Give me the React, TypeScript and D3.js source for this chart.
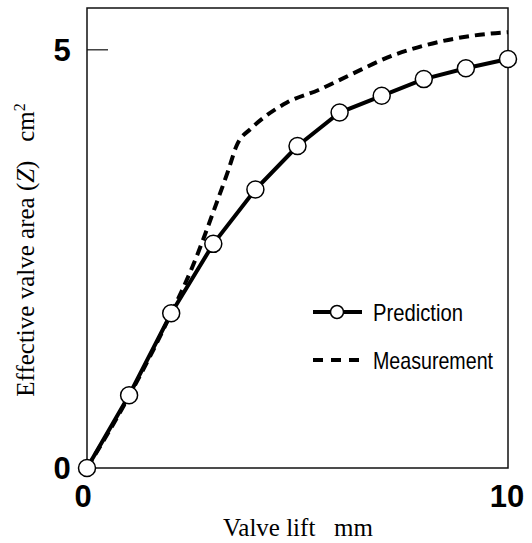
import { useEffect, useRef } from 'react'
import * as d3 from 'd3'

// valve lift (mm) vs effective valve area (cm^2)
const predLift = [0, 1, 2, 3, 4, 5, 6, 7, 8, 9, 10]
const predArea = [0, 0.87, 1.85, 2.68, 3.33, 3.85, 4.25, 4.45, 4.65, 4.78, 4.89]

const measLift = [0, 1, 2, 2.5, 3.1, 3.35, 3.55, 3.9, 4.2, 4.75, 5.5, 6.25, 7.3, 8, 8.8, 9.5, 10]
const measArea = [0, 0.86, 1.85, 2.4, 3.2, 3.55, 3.85, 4.06, 4.19, 4.37, 4.52, 4.7, 4.94, 5.05, 5.14, 5.19, 5.21]

const xTicks = [0, 10]
const yTicks = [0, 5]

const App = () => {
  const svgRef = useRef<SVGSVGElement>(null)

  useEffect(() => {
    if (!svgRef.current) return
    const width = 532
    const height = 543
    const margin = { top: 8, right: 24, bottom: 75, left: 87 }

    const svg = d3.select(svgRef.current)
    svg.selectAll('*').remove()
    svg.attr('width', width).attr('height', height)

    const x = d3.scaleLinear().domain([0, 10]).range([margin.left, width - margin.right])
    const y = d3.scaleLinear().domain([0, 5.5]).range([height - margin.bottom, margin.top])

    // frame
    svg.append('rect')
      .attr('x', margin.left)
      .attr('y', margin.top)
      .attr('width', width - margin.right - margin.left)
      .attr('height', height - margin.bottom - margin.top)
      .attr('fill', 'none')
      .attr('stroke', '#111')
      .attr('stroke-width', 1.5)

    // inner tick at 5
    svg.append('line')
      .attr('x1', x(0)).attr('x2', x(0) + 21)
      .attr('y1', y(5)).attr('y2', y(5))
      .attr('stroke', '#111').attr('stroke-width', 1.2)

    const tickFont = '"Liberation Sans", Arial, sans-serif'

    svg.selectAll('.ytick')
      .data(yTicks)
      .join('text')
      .attr('x', 62)
      .attr('y', d => y(d) + 11)
      .attr('text-anchor', 'middle')
      .attr('font-family', tickFont)
      .attr('font-weight', 'bold')
      .attr('font-size', 31)
      .attr('fill', '#000')
      .text(d => d)

    svg.selectAll('.xtick')
      .data(xTicks)
      .join('text')
      .attr('x', d => x(d) + (d === 10 ? -1 : -4))
      .attr('y', 507)
      .attr('text-anchor', 'middle')
      .attr('font-family', tickFont)
      .attr('font-weight', 'bold')
      .attr('font-size', 31)
      .attr('fill', '#000')
      .text(d => d)

    // axis titles
    const serif = '"Liberation Serif", "Times New Roman", serif'
    svg.append('text')
      .attr('x', 298)
      .attr('y', 536)
      .attr('text-anchor', 'middle')
      .attr('font-family', serif)
      .attr('font-size', 25)
      .attr('fill', '#000')
      .attr('xml:space', 'preserve')
      .text('Valve lift   mm')

    const yt = svg.append('text')
      .attr('transform', 'translate(34,250) rotate(-90)')
      .attr('text-anchor', 'middle')
      .attr('font-family', serif)
      .attr('font-size', 25)
      .attr('fill', '#000')
      .attr('xml:space', 'preserve')
    yt.append('tspan').text('Effective valve area (')
    yt.append('tspan').attr('font-style', 'italic').text('Z')
    yt.append('tspan').text(')   cm')
    yt.append('tspan').attr('dy', -9).attr('font-size', 16).text('2')

    // measurement (dashed)
    const meas = measLift.map((l, i) => [l, measArea[i]] as [number, number])
    const lineMeas = d3.line<[number, number]>()
      .x(d => x(d[0])).y(d => y(d[1]))
      .curve(d3.curveMonotoneX)
    svg.append('path')
      .attr('d', lineMeas(meas))
      .attr('fill', 'none')
      .attr('stroke', '#000')
      .attr('stroke-width', 4)
      .attr('stroke-dasharray', '10,6')

    // prediction (solid + circles)
    const pred = predLift.map((l, i) => [l, predArea[i]] as [number, number])
    const linePred = d3.line<[number, number]>().x(d => x(d[0])).y(d => y(d[1]))
    svg.append('path')
      .attr('d', linePred(pred))
      .attr('fill', 'none')
      .attr('stroke', '#000')
      .attr('stroke-width', 4)

    svg.selectAll('.pt')
      .data(pred)
      .join('circle')
      .attr('cx', d => x(d[0]))
      .attr('cy', d => y(d[1]))
      .attr('r', 8.5)
      .attr('fill', '#fff')
      .attr('stroke', '#000')
      .attr('stroke-width', 1.5)

    // legend
    const legFont = '"Liberation Sans Narrow", "Liberation Sans", Arial, sans-serif'
    const lg = svg.append('g')
    lg.append('line')
      .attr('x1', 313).attr('x2', 362).attr('y1', 312).attr('y2', 312)
      .attr('stroke', '#000').attr('stroke-width', 4)
    lg.append('circle')
      .attr('cx', 337).attr('cy', 312).attr('r', 6.5)
      .attr('fill', '#fff').attr('stroke', '#000').attr('stroke-width', 1.5)
    lg.append('text')
      .attr('x', 373).attr('y', 321)
      .attr('font-family', legFont)
      .attr('font-size', 24)
      .attr('textLength', 90)
      .attr('lengthAdjust', 'spacingAndGlyphs')
      .text('Prediction')
    lg.append('line')
      .attr('x1', 313).attr('x2', 359).attr('y1', 360).attr('y2', 360)
      .attr('stroke', '#000').attr('stroke-width', 4)
      .attr('stroke-dasharray', '10,8')
    lg.append('text')
      .attr('x', 373).attr('y', 369)
      .attr('font-family', legFont)
      .attr('font-size', 24)
      .attr('textLength', 120)
      .attr('lengthAdjust', 'spacingAndGlyphs')
      .text('Measurement')
  }, [])

  return (
    <svg
      ref={svgRef}
      style={{ position: 'absolute', left: 0, top: 0, background: '#fff', display: 'block' }}
    />
  )
}

export default App
